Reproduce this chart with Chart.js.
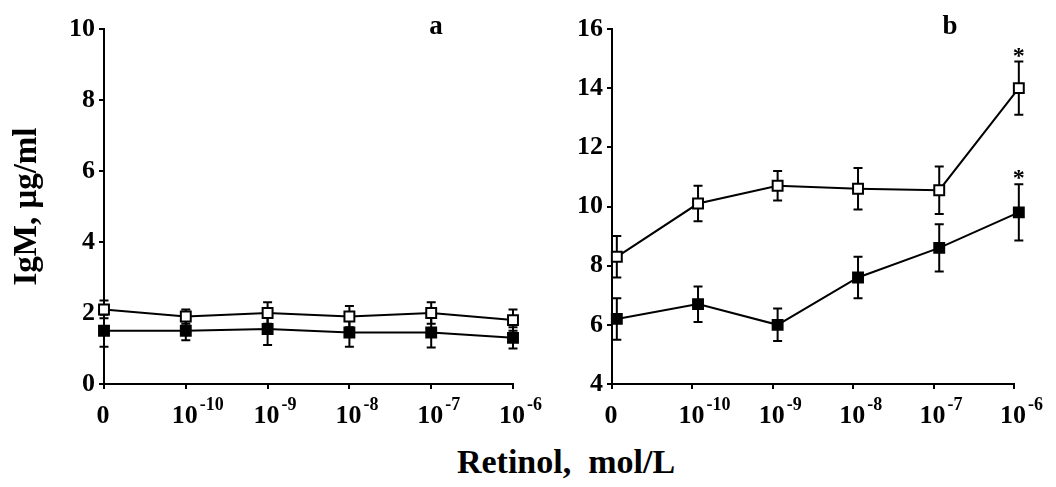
<!DOCTYPE html>
<html>
<head>
<meta charset="utf-8">
<script src="https://cdn.jsdelivr.net/npm/chart.js@4.4.1/dist/chart.umd.min.js"></script>
<style>
  html, body { margin: 0; padding: 0; background: #fff; }
  #wrap { position: relative; width: 1056px; height: 487px; overflow: hidden; background: #fff; }
  canvas { position: absolute; top: 0; }
  #xtitle { position: absolute; top: 442px; left: 566px; transform: translateX(-50%);
    font: bold 34px "Liberation Serif", "Times New Roman", serif; white-space: pre; color: #000; line-height: 40px; }
</style>
</head>
<body>
<div id="wrap">
  <canvas id="cA" width="560" height="440" style="left:0px"></canvas>
  <canvas id="cB" width="528" height="440" style="left:528px"></canvas>
  <div id="xtitle">Retinol,  mol/L</div>
</div>
<script>
// ---- data ----
const xTickBase = ['0', '10', '10', '10', '10', '10'];
const xTickExp  = ['', '-10', '-9', '-8', '-7', '-6'];
const xA = [0, 1, 2, 3, 4, 5];
const xB = [0.06, 1.07, 2.06, 3.06, 4.07, 5.06];

const openA     = [2.1, 1.9, 2.0, 1.9, 2.0, 1.8];
const openAErr  = [0.25, 0.2, 0.3, 0.3, 0.3, 0.3];
const filledA   = [1.5, 1.5, 1.55, 1.45, 1.45, 1.3];
const filledAErr= [0.45, 0.27, 0.45, 0.4, 0.42, 0.3];

const openB     = [8.3, 10.1, 10.7, 10.6, 10.55, 14.0];
const openBErr  = [0.7, 0.6, 0.5, 0.7, 0.8, 0.9];
const filledB   = [6.2, 6.7, 6.0, 7.6, 8.6, 9.8];
const filledBErr= [0.7, 0.6, 0.55, 0.7, 0.8, 0.95];
const sigOpenB   = [false, false, false, false, false, true];
const sigFilledB = [false, false, false, false, false, true];

const yTicksA = { min: 0, max: 10, step: 2 };
const yTicksB = { min: 4, max: 16, step: 2 };

const SERIF = '"Liberation Serif", "Times New Roman", serif';

function pts(xs, ys) { return xs.map((x, i) => ({ x: x, y: ys[i] })); }

const errorBarPlugin = {
  id: 'errorBars',
  beforeDatasetsDraw(chart) {
    const ctx = chart.ctx;
    const ys = chart.scales.y;
    ctx.save();
    ctx.strokeStyle = '#000';
    ctx.lineWidth = 2;
    chart.data.datasets.forEach((ds, di) => {
      const meta = chart.getDatasetMeta(di);
      ds.data.forEach((p, i) => {
        const e = ds.errors[i];
        const px = meta.data[i].x;
        const yTop = ys.getPixelForValue(p.y + e);
        const yBot = ys.getPixelForValue(p.y - e);
        ctx.beginPath();
        ctx.moveTo(px, yTop); ctx.lineTo(px, yBot);
        ctx.moveTo(px - 4.5, yTop); ctx.lineTo(px + 4.5, yTop);
        ctx.moveTo(px - 4.5, yBot); ctx.lineTo(px + 4.5, yBot);
        ctx.stroke();
      });
    });
    ctx.restore();
  },
  afterDatasetsDraw(chart) {
    const ctx = chart.ctx;
    const ys = chart.scales.y;
    ctx.save();
    ctx.fillStyle = '#000';
    ctx.font = 'bold 24px ' + SERIF;
    ctx.textAlign = 'center';
    ctx.textBaseline = 'alphabetic';
    chart.data.datasets.forEach((ds, di) => {
      if (!ds.sig) return;
      const meta = chart.getDatasetMeta(di);
      ds.data.forEach((p, i) => {
        if (!ds.sig[i]) return;
        const px = meta.data[i].x;
        const yTop = ys.getPixelForValue(p.y + ds.errors[i]);
        ctx.fillText('*', px, yTop + 1);
      });
    });
    ctx.restore();
  }
};

const xLabelPlugin = {
  id: 'xLabels',
  afterDraw(chart) {
    const ctx = chart.ctx;
    const xs = chart.scales.x;
    const base = chart.scales.y.bottom;
    ctx.save();
    ctx.fillStyle = '#000';
    ctx.textBaseline = 'alphabetic';
    xTickBase.forEach((b, i) => {
      const px = xs.getPixelForValue(i) - 1;
      ctx.font = 'bold 26px ' + SERIF;
      ctx.textAlign = 'center';
      const w = ctx.measureText(b).width;
      ctx.fillText(b, px, base + 39);
      if (xTickExp[i]) {
        ctx.font = 'bold 18px ' + SERIF;
        ctx.textAlign = 'left';
        ctx.fillText(xTickExp[i], px + w / 2 + 2, base + 26);
      }
    });
    // panel letter
    const pl = chart.options.plugins.panelLetter;
    ctx.font = 'bold 27px ' + SERIF;
    ctx.textAlign = 'center';
    ctx.fillText(pl.text, pl.x, pl.y);
    ctx.restore();
  }
};

function makeChart(id, xs, open, openErr, filled, filledErr, sigO, sigF, yr, yAxisWidth, padRight, letter, letterX, withTitle) {
  return new Chart(document.getElementById(id), {
    type: 'line',
    data: {
      datasets: [
        {
          data: pts(xs, filled), errors: filledErr, sig: sigF,
          borderColor: '#000', borderWidth: 2, tension: 0,
          pointStyle: 'rect', pointRadius: 7, pointBorderWidth: 2,
          pointBackgroundColor: '#000', pointBorderColor: '#000', clip: false
        },
        {
          data: pts(xs, open), errors: openErr, sig: sigO,
          borderColor: '#000', borderWidth: 2, tension: 0,
          pointStyle: 'rect', pointRadius: 7, pointBorderWidth: 2,
          pointBackgroundColor: '#fff', pointBorderColor: '#000', clip: false
        }
      ]
    },
    options: {
      responsive: false,
      animation: false,
      events: [],
      layout: { padding: { top: 29, right: padRight, left: 0, bottom: 0 } },
      plugins: { legend: { display: false }, tooltip: { enabled: false },
                 panelLetter: { text: letter, x: letterX, y: 34 } },
      scales: {
        x: {
          type: 'linear', min: 0, max: 5,
          ticks: { display: false, stepSize: 1 },
          grid: { display: true, drawOnChartArea: false, drawTicks: true, tickLength: 5, color: '#000', lineWidth: 2 },
          border: { display: true, color: '#000', width: 2 },
          afterFit: (s) => { s.height = 56; }
        },
        y: {
          type: 'linear', min: yr.min, max: yr.max,
          ticks: { stepSize: yr.step, color: '#000', padding: 4,
                   font: { family: SERIF, size: 26, weight: 'bold' } },
          grid: { display: true, drawOnChartArea: false, drawTicks: true, tickLength: 5, color: '#000', lineWidth: 2 },
          border: { display: true, color: '#000', width: 2 },
          title: { display: withTitle, text: 'IgM, μg/ml', color: '#000',
                   font: { family: SERIF, size: 33, weight: 'bold' }, padding: { top: 8, bottom: 0 } },
          afterFit: (s) => { s.width = yAxisWidth; }
        }
      }
    },
    plugins: [errorBarPlugin, xLabelPlugin]
  });
}

makeChart('cA', xA, openA, openAErr, filledA, filledAErr, null, null, yTicksA, 104, 47, 'a', 436, true);
makeChart('cB', xB, openB, openBErr, filledB, filledBErr, sigOpenB, sigFilledB, yTicksB, 84, 42, 'b', 422, false);
</script>
</body>
</html>
